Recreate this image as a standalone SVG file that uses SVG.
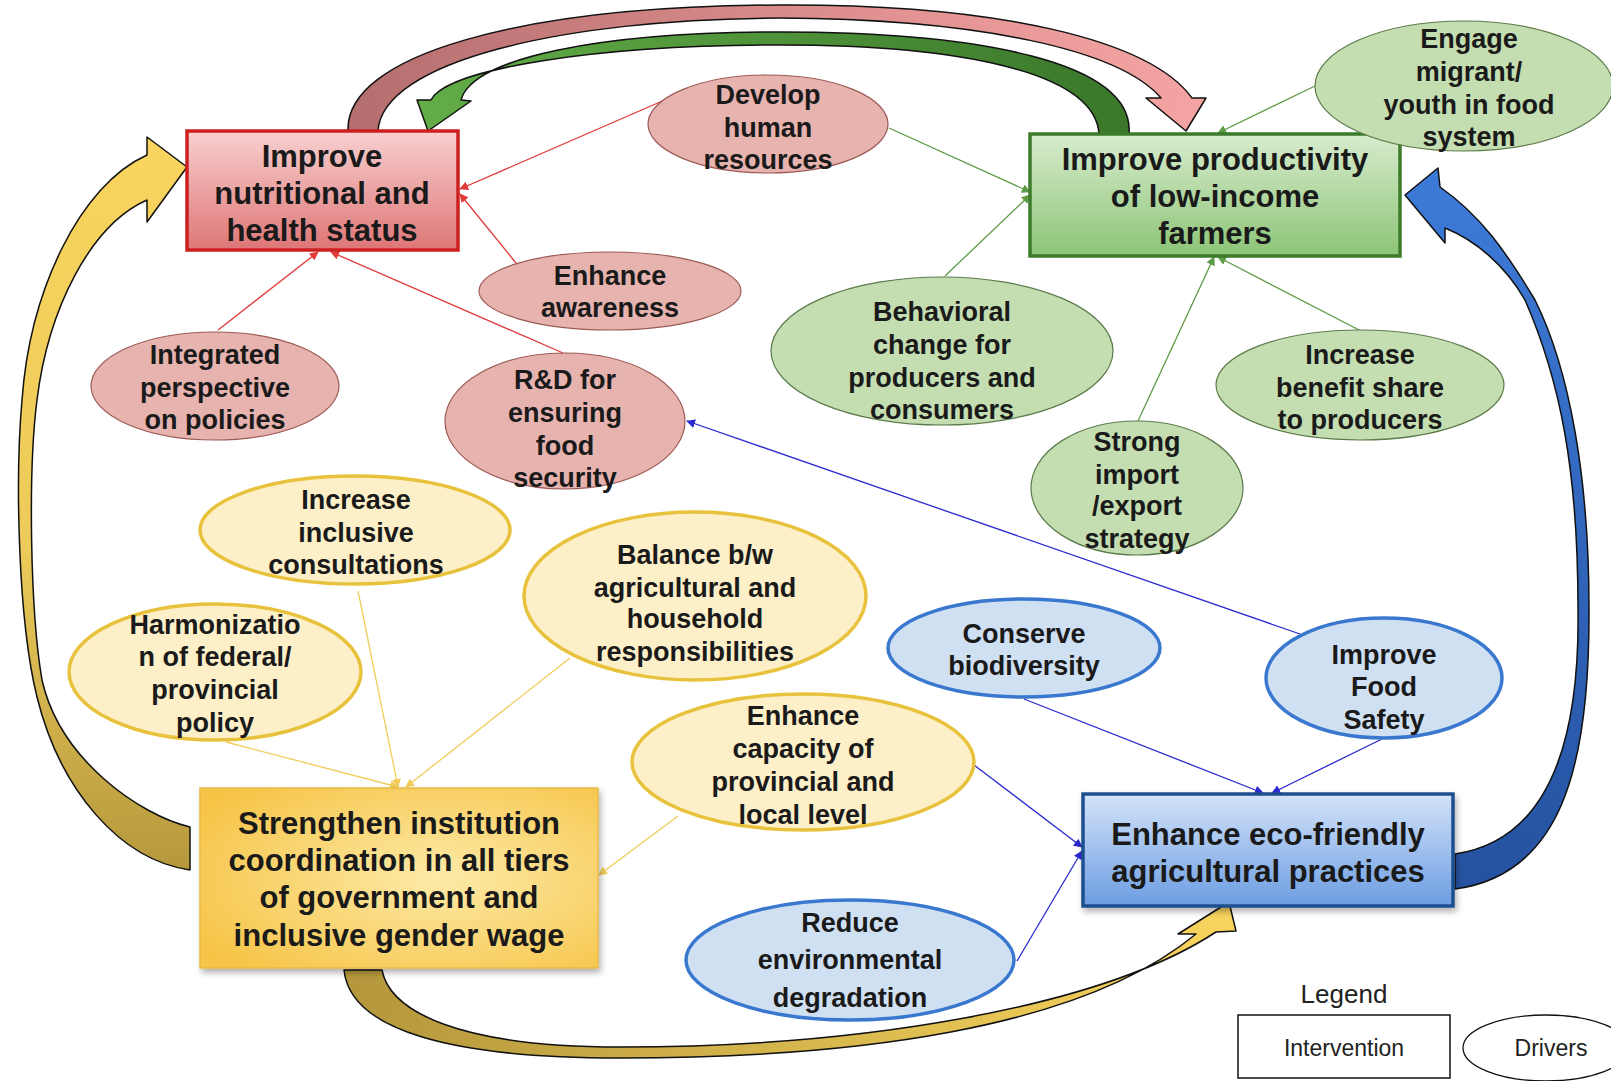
<svg xmlns="http://www.w3.org/2000/svg" width="1611" height="1081" viewBox="0 0 1611 1081">
<style>
.bt{font-family:"Liberation Sans",Arial,sans-serif;font-weight:bold;font-size:31px;fill:#1a1a1a;text-anchor:middle}
.et{font-family:"Liberation Sans",Arial,sans-serif;font-weight:bold;font-size:27px;fill:#1a1a1a;text-anchor:middle}
.lt{font-family:"Liberation Sans",Arial,sans-serif;font-size:23px;fill:#222;text-anchor:middle}
.ep{fill:#e6b3ae;stroke:#9c5a55;stroke-width:1.2}
.eg{fill:#c4deb1;stroke:#5c7a4a;stroke-width:1.2}
.ey{fill:#fdf0c8;stroke:#e8c23c;stroke-width:3.5}
.eb{fill:#cfe0f3;stroke:#3a78d0;stroke-width:3.5}
.cr{stroke:#e03a3a;stroke-width:1.3;fill:none;marker-end:url(#mr)}
.cg{stroke:#5f9a45;stroke-width:1.3;fill:none;marker-end:url(#mg)}
.cb{stroke:#2a2ad0;stroke-width:1.3;fill:none;marker-end:url(#mb)}
.cy{stroke:#f2cc5a;stroke-width:1.3;fill:none;marker-end:url(#my)}
.big{stroke:#111;stroke-width:1.5;stroke-linejoin:round}
</style>
<defs>
<marker id="mr" viewBox="0 0 10 10" refX="9" refY="5" markerWidth="9" markerHeight="9" markerUnits="userSpaceOnUse" orient="auto"><path d="M0,0 L10,5 L0,10 z" fill="#e03a3a"/></marker>
<marker id="mg" viewBox="0 0 10 10" refX="9" refY="5" markerWidth="9" markerHeight="9" markerUnits="userSpaceOnUse" orient="auto"><path d="M0,0 L10,5 L0,10 z" fill="#5f9a45"/></marker>
<marker id="mb" viewBox="0 0 10 10" refX="9" refY="5" markerWidth="9" markerHeight="9" markerUnits="userSpaceOnUse" orient="auto"><path d="M0,0 L10,5 L0,10 z" fill="#2a2ad0"/></marker>
<marker id="my" viewBox="0 0 10 10" refX="9" refY="5" markerWidth="9" markerHeight="9" markerUnits="userSpaceOnUse" orient="auto"><path d="M0,0 L10,5 L0,10 z" fill="#f2cc5a"/></marker>
<linearGradient id="gRed" x1="0" y1="0" x2="0" y2="1"><stop offset="0" stop-color="#f8d0d0"/><stop offset="1" stop-color="#de7676"/></linearGradient>
<linearGradient id="gGreen" x1="0" y1="0" x2="0" y2="1"><stop offset="0" stop-color="#d8ecce"/><stop offset="1" stop-color="#8cc476"/></linearGradient>
<radialGradient id="gYel" cx="0.6" cy="0.5" r="0.7"><stop offset="0" stop-color="#fdeaa8"/><stop offset="1" stop-color="#f6c447"/></radialGradient>
<linearGradient id="gBlue" x1="0" y1="0" x2="0" y2="1"><stop offset="0" stop-color="#d3e3f9"/><stop offset="1" stop-color="#6c9de2"/></linearGradient>
<linearGradient id="aPink" gradientUnits="userSpaceOnUse" x1="350" y1="0" x2="1200" y2="0"><stop offset="0" stop-color="#b56e6e"/><stop offset="0.5" stop-color="#d98a8a"/><stop offset="1" stop-color="#f4a5a3"/></linearGradient>
<linearGradient id="aGreen" gradientUnits="userSpaceOnUse" x1="420" y1="0" x2="1130" y2="0"><stop offset="0" stop-color="#63ad48"/><stop offset="1" stop-color="#3a772a"/></linearGradient>
<linearGradient id="aYL" gradientUnits="userSpaceOnUse" x1="0" y1="140" x2="0" y2="880"><stop offset="0" stop-color="#f9d45e"/><stop offset="0.55" stop-color="#eccb5a"/><stop offset="1" stop-color="#b4973c"/></linearGradient>
<linearGradient id="aYB" gradientUnits="userSpaceOnUse" x1="340" y1="0" x2="1235" y2="0"><stop offset="0" stop-color="#b4973c"/><stop offset="0.6" stop-color="#dcbc50"/><stop offset="1" stop-color="#f9d45e"/></linearGradient>
<linearGradient id="aBlue" gradientUnits="userSpaceOnUse" x1="0" y1="170" x2="0" y2="890"><stop offset="0" stop-color="#3d7bd9"/><stop offset="1" stop-color="#2552a0"/></linearGradient>
<filter id="sh" x="-10%" y="-10%" width="125%" height="130%"><feDropShadow dx="2" dy="4" stdDeviation="3" flood-color="#000" flood-opacity="0.3"/></filter>
</defs>
<rect width="1611" height="1081" fill="#ffffff"/>

<g id="big-arrows">
<path id="arrow-red-to-green" class="big" fill="url(#aPink)" d="M348,131 C345,55 520,6 780,5 C1000,4 1150,40 1192,98 L1206,98 L1186,131 L1146,98 L1161,98 C1120,50 980,19 780,18 C560,19 382,62 378,131 Z"/>
<path id="arrow-green-to-red" class="big" fill="url(#aGreen)" d="M1129,134 C1135,62 980,32 780,32 C600,32 472,58 461,100 L471,101 L428,131 L417,100 L431,100 C448,68 600,45 780,45 C960,45 1095,72 1099,134 Z"/>
<path id="arrow-yellow-to-red" class="big" fill="url(#aYL)" d="M190,827 C140,815 60,760 42,680 C30,610 28,470 37,400 C48,310 90,225 147,200 L147,222 L187,167 L147,137 L147,155 C80,185 30,290 22,400 C15,480 18,620 37,697 C60,790 120,860 190,870 Z"/>
<path id="arrow-yellow-to-blue" class="big" fill="url(#aYB)" d="M344,970 C350,1030 450,1058 620,1058 C850,1058 1080,1030 1196,934 L1178,934 L1229,902 L1236,931 L1216,932 C1100,1008 860,1047 620,1047 C460,1047 390,1012 382,970 Z"/>
<path id="arrow-blue-to-green" class="big" fill="url(#aBlue)" d="M1455,854 C1550,840 1580,740 1578,608 C1578,470 1560,380 1525,300 C1505,265 1475,240 1445,228 L1445,243 L1405,195 L1438,168 L1440,187 C1480,215 1505,250 1535,300 C1570,370 1589,480 1589,608 C1590,770 1560,875 1455,889 Z"/>
</g>

<g id="connectors">
<line class="cr" x1="683" y1="92" x2="460" y2="189"/>
<line class="cr" x1="516" y1="263" x2="460" y2="194"/>
<line class="cr" x1="218" y1="330" x2="318" y2="252"/>
<line class="cr" x1="563" y1="353" x2="331" y2="252"/>
<line class="cg" x1="889" y1="128" x2="1030" y2="192"/>
<line class="cg" x1="945" y1="276" x2="1030" y2="195"/>
<line class="cg" x1="1315" y1="86" x2="1218" y2="133"/>
<line class="cg" x1="1138" y1="421" x2="1214" y2="257"/>
<line class="cg" x1="1361" y1="331" x2="1218" y2="257"/>
<line class="cb" x1="1300" y1="634" x2="687" y2="421"/>
<line class="cb" x1="1024" y1="699" x2="1263" y2="793"/>
<line class="cb" x1="1382" y1="739" x2="1272" y2="793"/>
<line class="cb" x1="974" y1="765" x2="1082" y2="847"/>
<line class="cb" x1="1017" y1="961" x2="1082" y2="851"/>
<line class="cy" x1="358" y1="591" x2="398" y2="787"/>
<line class="cy" x1="226" y1="742" x2="398" y2="787"/>
<line class="cy" x1="570" y1="658" x2="406" y2="787"/>
<line class="cy" x1="678" y1="816" x2="599" y2="875"/>
</g>

<g id="box-nutrition">
<rect x="187" y="131" width="271" height="119" fill="url(#gRed)" stroke="#cc1f1f" stroke-width="3.5"/>
<text class="bt" x="322" y="167">Improve</text>
<text class="bt" x="322" y="204">nutritional and</text>
<text class="bt" x="322" y="241">health status</text>
</g>
<g id="box-productivity">
<rect x="1030" y="134" width="370" height="122" fill="url(#gGreen)" stroke="#3c7b2a" stroke-width="3.5"/>
<text class="bt" x="1215" y="170">Improve productivity</text>
<text class="bt" x="1215" y="207">of low-income</text>
<text class="bt" x="1215" y="244">farmers</text>
</g>
<g id="box-institution">
<rect x="200" y="788" width="398" height="180" fill="url(#gYel)" stroke="#eab948" stroke-width="1.5" filter="url(#sh)"/>
<text class="bt" x="399" y="834">Strengthen institution</text>
<text class="bt" x="399" y="871">coordination in all tiers</text>
<text class="bt" x="399" y="908">of government and</text>
<text class="bt" x="399" y="946">inclusive gender wage</text>
</g>
<g id="box-eco">
<rect x="1083" y="794" width="370" height="112" fill="url(#gBlue)" stroke="#1f4f8f" stroke-width="3.5" filter="url(#sh)"/>
<text class="bt" x="1268" y="845">Enhance eco-friendly</text>
<text class="bt" x="1268" y="882">agricultural practices</text>
</g>

<g id="e-develop"><ellipse class="ep" cx="768" cy="124" rx="120" ry="49"/>
<text class="et" x="768" y="104">Develop</text><text class="et" x="768" y="137">human</text><text class="et" x="768" y="169">resources</text></g>
<g id="e-awareness"><ellipse class="ep" cx="610" cy="291" rx="131" ry="39"/>
<text class="et" x="610" y="285">Enhance</text><text class="et" x="610" y="317">awareness</text></g>
<g id="e-integrated"><ellipse class="ep" cx="215" cy="386" rx="124" ry="54"/>
<text class="et" x="215" y="364">Integrated</text><text class="et" x="215" y="397">perspective</text><text class="et" x="215" y="429">on policies</text></g>
<g id="e-rnd"><ellipse class="ep" cx="565" cy="421" rx="120" ry="68"/>
<text class="et" x="565" y="389">R&amp;D for</text><text class="et" x="565" y="422">ensuring</text><text class="et" x="565" y="455">food</text><text class="et" x="565" y="487">security</text></g>

<g id="e-engage"><ellipse class="eg" cx="1464" cy="86" rx="149" ry="65"/>
<text class="et" x="1469" y="48">Engage</text><text class="et" x="1469" y="81">migrant/</text><text class="et" x="1469" y="114">youth in food</text><text class="et" x="1469" y="146">system</text></g>
<g id="e-behavioral"><ellipse class="eg" cx="942" cy="351" rx="171" ry="74"/>
<text class="et" x="942" y="321">Behavioral</text><text class="et" x="942" y="354">change for</text><text class="et" x="942" y="387">producers and</text><text class="et" x="942" y="419">consumers</text></g>
<g id="e-benefit"><ellipse class="eg" cx="1360" cy="385" rx="144" ry="55"/>
<text class="et" x="1360" y="364">Increase</text><text class="et" x="1360" y="397">benefit share</text><text class="et" x="1360" y="429">to producers</text></g>
<g id="e-strong"><ellipse class="eg" cx="1137" cy="488" rx="106" ry="67"/>
<text class="et" x="1137" y="451">Strong</text><text class="et" x="1137" y="484">import</text><text class="et" x="1137" y="515">/export</text><text class="et" x="1137" y="548">strategy</text></g>

<g id="e-consult"><ellipse class="ey" cx="355" cy="530" rx="155" ry="54"/>
<text class="et" x="356" y="509">Increase</text><text class="et" x="356" y="542">inclusive</text><text class="et" x="356" y="574">consultations</text></g>
<g id="e-balance"><ellipse class="ey" cx="695" cy="596" rx="171" ry="84"/>
<text class="et" x="695" y="564">Balance b/w</text><text class="et" x="695" y="597">agricultural and</text><text class="et" x="695" y="628">household</text><text class="et" x="695" y="661">responsibilities</text></g>
<g id="e-harmon"><ellipse class="ey" cx="215" cy="672" rx="146" ry="68"/>
<text class="et" x="215" y="634">Harmonizatio</text><text class="et" x="215" y="666">n of federal/</text><text class="et" x="215" y="699">provincial</text><text class="et" x="215" y="732">policy</text></g>
<g id="e-capacity"><ellipse class="ey" cx="803" cy="762" rx="171" ry="68"/>
<text class="et" x="803" y="725">Enhance</text><text class="et" x="803" y="758">capacity of</text><text class="et" x="803" y="791">provincial and</text><text class="et" x="803" y="824">local level</text></g>

<g id="e-conserve"><ellipse class="eb" cx="1024" cy="648" rx="136" ry="49"/>
<text class="et" x="1024" y="643">Conserve</text><text class="et" x="1024" y="675">biodiversity</text></g>
<g id="e-foodsafety"><ellipse class="eb" cx="1384" cy="678" rx="118" ry="60"/>
<text class="et" x="1384" y="664">Improve</text><text class="et" x="1384" y="696">Food</text><text class="et" x="1384" y="729">Safety</text></g>
<g id="e-reduce"><ellipse class="eb" cx="850" cy="960" rx="164" ry="60"/>
<text class="et" x="850" y="932">Reduce</text><text class="et" x="850" y="969">environmental</text><text class="et" x="850" y="1007">degradation</text></g>

<g id="legend">
<text class="lt" x="1344" y="1003" style="font-size:26px">Legend</text>
<rect x="1238" y="1015" width="212" height="63" fill="#fff" stroke="#111" stroke-width="1.5"/>
<text class="lt" x="1344" y="1056">Intervention</text>
<ellipse cx="1546" cy="1048" rx="83" ry="33" fill="#fff" stroke="#111" stroke-width="1.3"/>
<text class="lt" x="1551" y="1056">Drivers</text>
</g>
</svg>
